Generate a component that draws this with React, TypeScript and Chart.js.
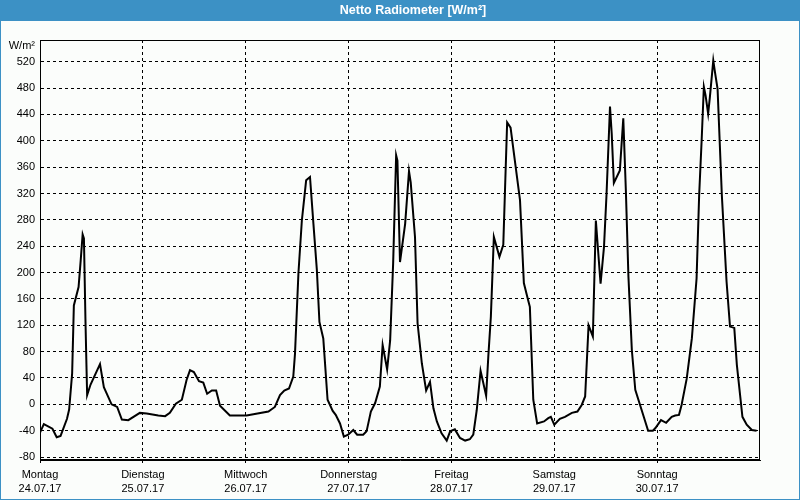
import React, { useEffect, useRef } from 'react';
import { Chart, registerables } from 'chart.js';

Chart.register(...registerables);

// ---- data ----
const chartTitle = 'Netto Radiometer [W/m²]';
const unitLabel = 'W/m²';

const dayNames = ['Montag', 'Dienstag', 'Mittwoch', 'Donnerstag', 'Freitag', 'Samstag', 'Sonntag'];
const dayDates = ['24.07.17', '25.07.17', '26.07.17', '27.07.17', '28.07.17', '29.07.17', '30.07.17'];
const dayTickHours = [0, 24, 48, 72, 96, 120, 144];

const yTickValues = [-80, -40, 0, 40, 80, 120, 160, 200, 240, 280, 320, 360, 400, 440, 480, 520];

// hours since Monday 24.07.17 00:00
const hours = [
  0.0, 0.9, 2.9, 3.9, 4.8, 6.3, 6.8, 7.5, 7.9, 9.0, 9.5, 9.95, 10.25, 10.6, 10.8, 11.0, 11.8, 14.0, 14.9, 16.7, 18.0, 19.1, 20.6, 23.3,
  24.9, 27.6, 29.2, 30.3, 31.7, 33.1, 34.2, 35.0, 35.9, 37.1, 38.1, 39.0, 40.1, 41.1, 42.0, 44.3,
  48.2, 53.3, 54.8, 56.0, 57.0, 58.1, 59.1, 59.5, 60.3, 61.1, 62.1, 63.0, 63.8, 64.6, 65.2, 66.1, 67.1, 68.3, 69.0, 70.0, 70.9,
  71.9, 73.1, 74.0, 75.4, 76.2, 77.2, 78.2, 79.3, 79.95, 81.0, 81.7, 82.4, 83.1, 83.4, 84.0, 85.2, 86.1, 86.5, 87.5, 88.1, 89.1, 90.1, 91.0, 91.8, 92.6, 93.7, 94.9,
  95.7, 96.8, 98.0, 99.2, 100.3, 101.1, 101.9, 102.8, 104.1, 104.6, 105.2, 105.9, 107.2, 108.1, 108.5, 109.0, 109.8, 110.8, 112.0, 112.9, 113.9, 114.3, 115.1, 116.0, 117.6, 118.6, 119.2,
  120.0, 121.3, 122.5, 124.1, 125.4, 126.4, 127.2, 128.0, 129.0, 129.7, 130.8, 131.6, 132.2, 133.0, 133.4, 133.9, 135.3, 136.1, 136.7, 137.3, 138.1, 138.9, 140.4, 141.9, 143.0,
  143.6, 144.9, 146.1, 147.4, 148.2, 149.1, 149.7, 150.9, 152.1, 153.2, 153.8, 154.4, 154.9, 155.3, 155.9, 156.3, 157.1, 157.5, 158.1, 159.1, 160.2, 161.0, 162.0, 162.6, 163.9, 164.9, 166.1, 167.2,
];

// net radiation, W/m²
const wattsPerSqm = [
  -43, -30, -37, -50, -48, -22, -8, 47, 150, 178, 219, 258, 252, 130, 70, 14, 30, 61, 26, 0, -4, -23, -24, -13,
  -14, -17, -18, -13, 1, 7, 37, 52, 49, 35, 33, 16, 21, 21, -2, -17,
  -17, -11, -4, 14, 21, 24, 42, 77, 199, 279, 340, 345, 274, 204, 125, 100, 7, -10, -16, -29, -49,
  -46, -39, -46, -46, -41, -11, 2, 27, 90, 53, 97, 214, 378, 370, 216, 274, 354, 337, 254, 123, 62, 21, 34, -6, -26, -44, -55,
  -41, -38, -51, -55, -53, -46, -9, 51, 13, 72, 133, 254, 224, 242, 325, 428, 420, 370, 310, 184, 158, 148, 7, -29, -26, -21, -19,
  -31, -22, -19, -13, -11, -1, 12, 120, 103, 279, 183, 239, 320, 452, 411, 336, 355, 434, 325, 194, 82, 22, -9, -40, -40,
  -36, -24, -28, -19, -17, -16, -1, 39, 100, 191, 317, 403, 482, 469, 441, 466, 522, 504, 479, 317, 186, 118, 116, 60, -19, -31, -39, -40,
];

const FONT = "'Liberation Sans', Arial, sans-serif";

const framePlugin = {
  id: 'framePlugin',
  beforeDraw(chart: any) {
    const { ctx, width, height } = chart;
    ctx.save();
    ctx.fillStyle = '#fbfdfb';
    ctx.fillRect(0, 0, width, height);
    ctx.fillStyle = '#3c91c5';
    ctx.fillRect(0, 0, width, 21);
    ctx.strokeStyle = '#3c91c5';
    ctx.lineWidth = 1;
    ctx.strokeRect(0.5, 0.5, width - 1, height - 1);
    ctx.fillStyle = '#ffffff';
    ctx.font = `bold 12.5px ${FONT}`;
    ctx.textAlign = 'center';
    ctx.textBaseline = 'middle';
    ctx.fillText(chartTitle, 413, 11);
    ctx.fillStyle = '#000000';
    ctx.font = `11px ${FONT}`;
    ctx.textAlign = 'right';
    ctx.fillText(unitLabel, 35, 46);
    ctx.restore();
  },
  afterDraw(chart: any) {
    const { ctx, chartArea } = chart;
    const l = Math.round(chartArea.left) + 0.5;
    const t = Math.round(chartArea.top) + 0.5;
    const r = Math.round(chartArea.right) - 0.5;
    const b = Math.round(chartArea.bottom) - 0.5;
    ctx.save();
    ctx.strokeStyle = '#000';
    ctx.lineWidth = 1;
    ctx.setLineDash([]);
    ctx.strokeRect(l, t, r - l, b - t);
    ctx.restore();
  },
};

export default function App() {
  const ref = useRef<HTMLCanvasElement | null>(null);

  useEffect(() => {
    if (!ref.current) return;
    const points = hours.map((h, i) => ({ x: h, y: wattsPerSqm[i] }));
    const chart = new Chart(ref.current, {
      type: 'line',
      data: {
        datasets: [
          {
            data: points,
            borderColor: '#000000',
            borderWidth: 2,
            pointRadius: 0,
            tension: 0,
            fill: false,
          },
        ],
      },
      options: {
        animation: false,
        responsive: false,
        layout: { padding: { top: 40, right: 40, left: 0, bottom: 0 } },
        plugins: {
          legend: { display: false },
          tooltip: { enabled: false },
          title: { display: false },
        },
        scales: {
          x: {
            type: 'linear',
            min: 0,
            max: 168,
            afterBuildTicks: (s: any) => {
              s.ticks = dayTickHours.map((v) => ({ value: v }));
            },
            afterFit: (s: any) => {
              s.height = 40;
            },
            grid: { color: '#000', lineWidth: 1, drawTicks: true, tickLength: 3 },
            border: { color: '#000', width: 1, dash: [3, 3] },
            ticks: {
              autoSkip: false,
              maxRotation: 0,
              padding: 4,
              color: '#000',
              font: { family: FONT, size: 11, lineHeight: 1.36 },
              callback: (_v: any, i: number) => [dayNames[i], dayDates[i]],
            },
          },
          y: {
            type: 'linear',
            min: -84.5,
            max: 553,
            afterBuildTicks: (s: any) => {
              s.ticks = yTickValues.map((v) => ({ value: v }));
            },
            afterFit: (s: any) => {
              s.width = 40;
            },
            grid: { color: '#000', lineWidth: 1, drawTicks: false },
            border: { color: '#000', width: 1, dash: [3, 3] },
            ticks: {
              padding: 5,
              color: '#000',
              font: { family: FONT, size: 11 },
              callback: (v: any) => String(v),
            },
          },
        },
      },
      plugins: [framePlugin],
    } as any);
    return () => chart.destroy();
  }, []);

  return (
    <div style={{ position: 'fixed', left: 0, top: 0, width: 800, height: 500 }}>
      <canvas ref={ref} width={800} height={500} style={{ display: 'block', width: 800, height: 500 }} />
    </div>
  );
}
